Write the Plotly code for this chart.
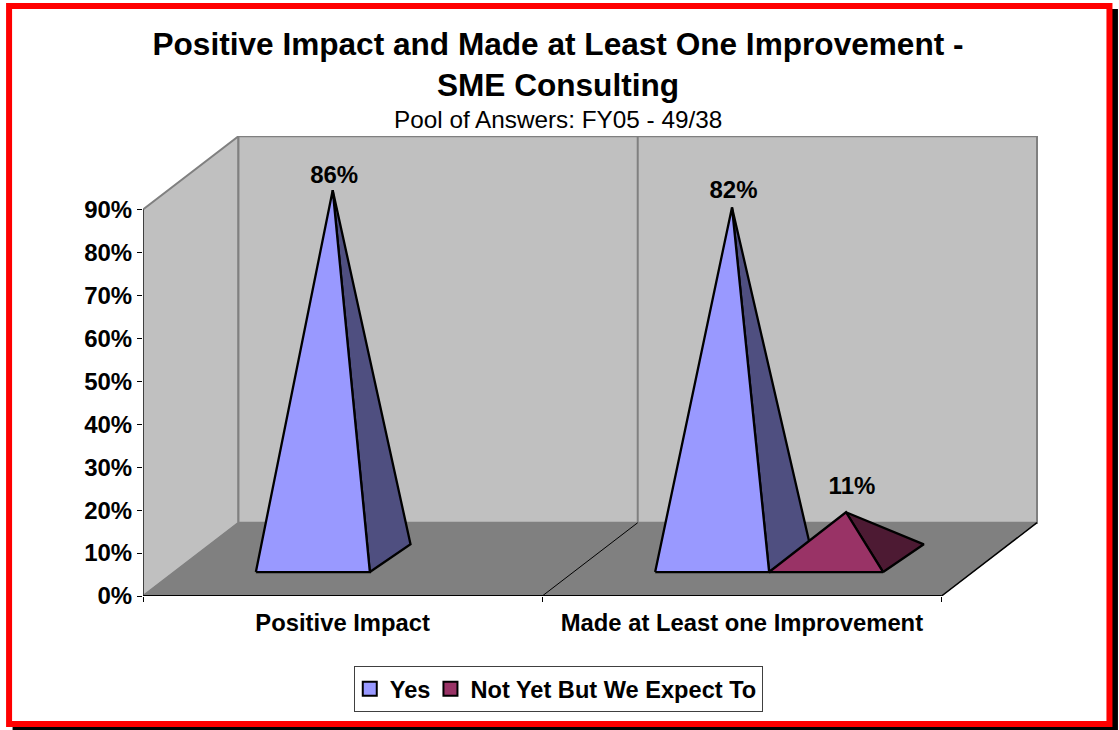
import plotly.graph_objects as go

# ---- data ----
categories = ["Positive Impact", "Made at Least one Improvement"]
series_names = ["Yes", "Not Yet But We Expect To"]
yes_values = [86, 82]
not_yet_values = [None, 11]
y_ticks = [0, 10, 20, 30, 40, 50, 60, 70, 80, 90]
title_lines = ["Positive Impact and Made at Least One Improvement -", "SME Consulting"]
subtitle = "Pool of Answers: FY05 - 49/38"

# ---- styling / layout constants ----
W, H = 1119, 730
L, R, T, B = 142.5, 1038, 136, 596
PX_PER_CAT = 399.5
PX_PER_PCT = 4.294
DEPTH_X = 95.5 / PX_PER_CAT    # oblique projection of full depth, in x units
DEPTH_Y = 73.3 / PX_PER_PCT    # ... and in y units
XMAX = (R - L) / PX_PER_CAT
YMAX = (B - T) / PX_PER_PCT
FONT = "Liberation Sans, Arial, sans-serif"
BAR_WIDTH = 0.2855
BAR_START = 0.2045
D_FRONT, D_BACK = 0.327, 0.705        # depth of pyramid base, vertical projection
DX_FRONT, DX_BACK = 0.327, 0.753      # depth of pyramid base, horizontal projection
DX_APEX, D_APEX = 0.535, 0.498        # apex position
# label offsets from each apex, in pixels (right, up)
YES_LABEL_OFFSET = [(1.5, 13.7), (1.5, 15)]
NOT_LABEL_OFFSET = [None, (6, 24.5)]

YES_FRONT, YES_SIDE = "#9999FF", "#4F4F80"
NOT_FRONT, NOT_SIDE = "#993366", "#4D1A33"
WALL, FLOOR, EDGE = "#C0C0C0", "#808080", "#808080"


def proj(x, y, dx, dy=None):
    dy = dx if dy is None else dy
    return x + dx * DEPTH_X, y + dy * DEPTH_Y


def poly(points, fill, line, width=2.3):
    xs, ys = zip(*points)
    return go.Scatter(x=list(xs) + [xs[0]], y=list(ys) + [ys[0]], mode="lines",
                      fill="toself", fillcolor=fill,
                      line=dict(color=line, width=width),
                      hoverinfo="skip", showlegend=False)


def seg(p, q, color, width=2):
    return go.Scatter(x=[p[0], q[0]], y=[p[1], q[1]], mode="lines",
                      line=dict(color=color, width=width),
                      hoverinfo="skip", showlegend=False)


def pyramid(x0, value, front, side):
    x1 = x0 + BAR_WIDTH
    fl = proj(x0, 0, DX_FRONT, D_FRONT)
    fr = proj(x1, 0, DX_FRONT, D_FRONT)
    br = proj(x1, 0, DX_BACK, D_BACK)
    apex = proj((x0 + x1) / 2, value, DX_APEX, D_APEX)
    return [poly([fr, br, apex], side, "#000000"), poly([fl, fr, apex], front, "#000000")], apex


n = len(categories)
traces = []
# side wall, back wall, floor
traces.append(poly([proj(0, 0, 0), proj(0, 0, 1), proj(0, 90, 1), proj(0, 90, 0)], WALL, EDGE, 2))
traces.append(poly([proj(0, 0, 1), proj(n, 0, 1), proj(n, 90, 1), proj(0, 90, 1)], WALL, EDGE, 2))
traces.append(poly([proj(0, 0, 0), proj(n, 0, 0), proj(n, 0, 1), proj(0, 0, 1)], FLOOR, FLOOR, 1))
# category divider
for i in range(1, n):
    traces.append(seg(proj(i, 0, 1), proj(i, 90, 1), EDGE))
    traces.append(seg(proj(i, 0, 0), proj(i, 0, 1), "#000000", 1))
# axis edges
traces.append(seg(proj(0, 0, 0), proj(0, 90, 0), "#404040", 2))
traces.append(seg(proj(0, 0, 0), proj(n, 0, 0), "#000000", 2))
traces.append(seg(proj(n, 0, 0), proj(n, 0, 1), "#000000", 1.5))

lx, ly, lt = [], [], []
for values, offs, start, front, side in [
    (yes_values, YES_LABEL_OFFSET, BAR_START, YES_FRONT, YES_SIDE),
    (not_yet_values, NOT_LABEL_OFFSET, BAR_START + BAR_WIDTH, NOT_FRONT, NOT_SIDE),
]:
    for i, v in enumerate(values):
        if v is None:
            continue
        tr, apex = pyramid(i + start, v, front, side)
        traces += tr
        lx.append(apex[0] + offs[i][0] / PX_PER_CAT)
        ly.append(apex[1] + offs[i][1] / PX_PER_PCT)
        lt.append(f"{v}%")

traces.append(go.Scatter(x=lx, y=ly, text=lt, mode="text", textposition="middle center",
                         textfont=dict(family=FONT, size=24, color="#000000"),
                         texttemplate="<b>%{text}</b>", hoverinfo="skip", showlegend=False))

# legend entries
for name, col in zip(series_names, [YES_FRONT, NOT_FRONT]):
    traces.append(go.Scatter(x=[None], y=[None], mode="markers", name=name,
                             marker=dict(symbol="square", size=14, color=col,
                                         line=dict(color="#000000", width=2))))

fig = go.Figure(traces)


def px(v):
    return (v - L) / (R - L)


def py(v):
    return (B - v) / (B - T)


shapes = [
    dict(type="rect", xref="paper", yref="paper", layer="below",
         x0=px(12), x1=px(1118), y0=py(9), y1=py(731),
         fillcolor="#000000", line=dict(width=0)),
    dict(type="rect", xref="paper", yref="paper", layer="below",
         x0=px(8.5), x1=px(1109.5), y0=py(6), y1=py(724),
         fillcolor="#FFFFFF", line=dict(color="#FF0000", width=6)),
]

fig.update_layout(
    width=W, height=H, autosize=False,
    margin=dict(l=L, r=W - R, t=T, b=H - B, pad=0),
    paper_bgcolor="#FFFFFF", plot_bgcolor="rgba(0,0,0,0)",
    font=dict(family=FONT, color="#000000"),
    shapes=shapes,
    title=dict(text="<b>" + "<br>".join(title_lines) + "</b>",
               font=dict(family=FONT, size=31.6, color="#000000"),
               x=558 / W, xanchor="center", xref="container",
               y=1 - 55 / H, yanchor="top", pad=dict(t=0, b=0)),
    annotations=[dict(text=subtitle, xref="paper", yref="paper", x=px(558), y=py(119),
                      xanchor="center", yanchor="middle", showarrow=False,
                      font=dict(family=FONT, size=24.3, color="#000000"))],
    xaxis=dict(range=[0, XMAX], showgrid=False, zeroline=False, showline=False,
               tickmode="array", tickvals=[i + 0.5 for i in range(n)],
               ticktext=[f"<b>{c}</b>" for c in categories], ticks="", ticklabelstandoff=10,
               tickfont=dict(family=FONT, size=23.8, color="#000000"),
               minor=dict(tickmode="array", tickvals=list(range(n + 1)), ticks="outside",
                          ticklen=5, tickwidth=1, tickcolor="#000000", showgrid=False)),
    yaxis=dict(range=[0, YMAX], showgrid=False, zeroline=False, showline=False,
               tickmode="array", tickvals=y_ticks,
               ticktext=[f"<b>{t}%</b>" for t in y_ticks],
               ticks="outside", ticklen=5, tickwidth=1, tickcolor="#000000",
               tickfont=dict(family=FONT, size=24, color="#000000")),
    legend=dict(orientation="h", xref="paper", yref="paper", x=px(558), y=py(666),
                xanchor="center", yanchor="top", bgcolor="#FFFFFF",
                bordercolor="#404040", borderwidth=1, indentation=-5,
                font=dict(family=FONT, size=23.6, color="#000000", weight="bold"),
                itemclick=False, itemdoubleclick=False),
)

fig.write_html("out.html", config={"displayModeBar": False},
               post_script="document.body.style.margin='0';document.body.style.overflow='hidden';")
